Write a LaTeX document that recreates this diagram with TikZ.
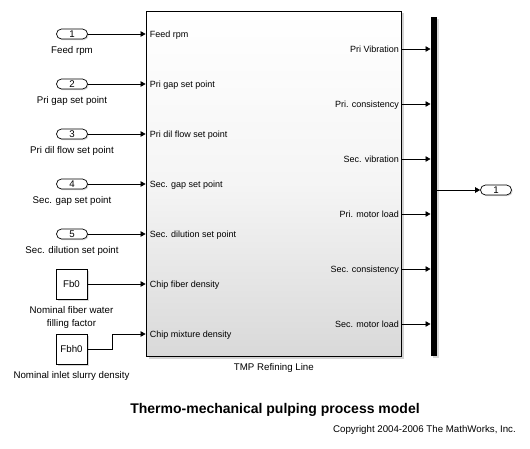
\documentclass[tikz,border=0pt]{standalone}
\usepackage{fontspec}
\setmainfont{Liberation Sans}
\usetikzlibrary{arrows.meta, positioning, shadows}

\begin{document}
\begin{tikzpicture}[x=1pt, y=-1pt,
            signal/.style={draw=black, line width=0.7pt, -{Triangle[length=5pt, width=5.5pt]}},
            inport/.style={draw=black, fill=white, line width=0.7pt, rounded corners=5pt, minimum width=31pt, minimum height=10pt, inner sep=0pt, font=\fontsize{9.7}{11}\selectfont, drop shadow={shadow xshift=1.2pt, shadow yshift=-1.2pt, opacity=0.3}},
            constblock/.style={draw=black, fill=white, line width=0.7pt, minimum width=31pt, minimum height=30pt, inner sep=0pt, font=\fontsize{9.7}{11}\selectfont, drop shadow={shadow xshift=1.5pt, shadow yshift=-1.5pt, opacity=0.3}},
            mainblock/.style={draw=black, line width=0.8pt, top color=white, bottom color=black!15, middle color=black!4, minimum width=255.7pt, minimum height=345.7pt, inner sep=0pt, drop shadow={shadow xshift=2.5pt, shadow yshift=-2.5pt, opacity=0.35}},
            busbar/.style={fill=black, minimum width=6pt, minimum height=339pt, inner sep=0pt, drop shadow={shadow xshift=2pt, shadow yshift=-2pt, opacity=0.3}},
            portlabel/.style={font=\fontsize{9.7}{13}\selectfont, inner sep=0pt, align=center},
            inlabel/.style={font=\fontsize{9}{10}\selectfont, inner sep=0pt, anchor=base west, xshift=4pt, yshift=-3.2pt},
            outlabel/.style={font=\fontsize{9}{10}\selectfont, inner sep=0pt, anchor=base east, xshift=-3pt, yshift=-3.2pt},
            titletext/.style={font=\fontsize{14}{16}\selectfont\bfseries, inner sep=0pt},
            copytext/.style={font=\fontsize{9.7}{11}\selectfont, inner sep=0pt}
        ]
            \useasboundingbox (0,0) rectangle (530,449);

            % main subsystem and bus
            \node[mainblock] (tmp) at (273.85,183.85) {};
            \node[portlabel, below=6pt of tmp] (tmpname) {TMP Refining Line};
            \node[busbar] (bus) at (433.7,186.5) {};

            % inports
            \foreach \lbl/\y [count=\i] in {Feed rpm/34, Pri gap set point/84, Pri dil flow set point/134, Sec. gap set point/184, Sec. dilution set point/234} {
                \node[inport] (p\i) at (72,\y) {\i};
                \node[portlabel, below=6.5pt of p\i] (pl\i) {\lbl};
                \draw[signal] (p\i.east) -- (p\i.east -| tmp.west);
                \node[inlabel] (il\i) at (p\i.east -| tmp.west) {\lbl};
            }

            % constants
            \node[constblock] (fb0) at (71.5,284) {Fb0};
            \node[portlabel, below=6.5pt of fb0] (fb0name) {Nominal fiber water\\filling factor};
            \draw[signal] (fb0.east) -- (fb0.east -| tmp.west);
            \node[inlabel] (il6) at (fb0.east -| tmp.west) {Chip fiber density};

            \node[constblock] (fbh0) at (71.5,349) {Fbh0};
            \node[portlabel, below=6.5pt of fbh0] (fbh0name) {Nominal inlet slurry density};
            \coordinate (in7) at (tmp.west |- 0,334);
            \draw[signal] (fbh0.east) -- ++(25,0) |- (in7);
            \node[inlabel] (il7) at (in7) {Chip mixture density};

            % outputs into bus
            \foreach \lbl/\y [count=\i] in {Pri Vibration/49, Pri. consistency/104, Sec. vibration/159, Pri. motor load/214, Sec. consistency/269, Sec. motor load/324} {
                \coordinate (o\i) at (tmp.east |- 0,\y);
                \node[outlabel] (ol\i) at (o\i) {\lbl};
                \draw[signal] (o\i) -- (o\i -| bus.west);
            }

            % outport
            \node[inport] (q1) at (496,190) {1};
            \draw[signal] (q1 -| bus.east) -- (q1.west);

            % title
            \node[titletext] (title) at (275,410) {Thermo-mechanical pulping process model};
            \node[copytext, anchor=east] (copy) at (516,430) {Copyright 2004-2006 The MathWorks, Inc.};
        \end{tikzpicture}
\end{document}
